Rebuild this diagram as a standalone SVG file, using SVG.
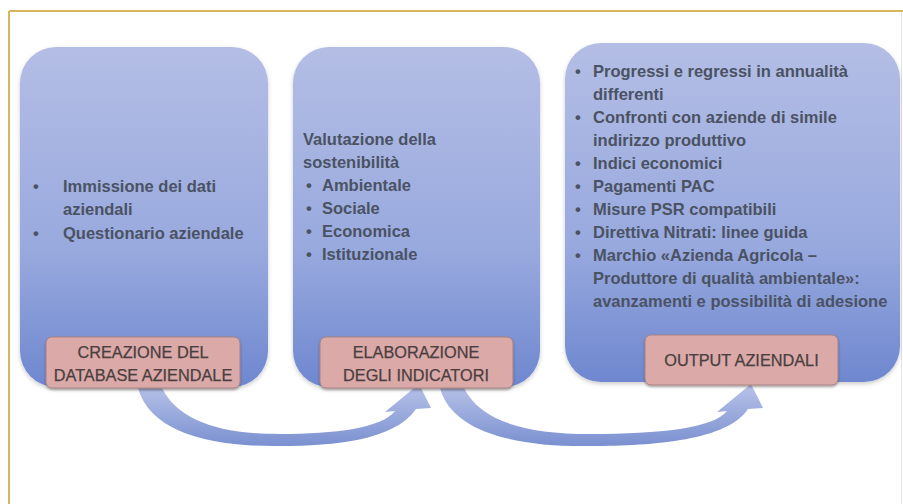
<svg xmlns="http://www.w3.org/2000/svg" width="903" height="504" viewBox="0 0 903 504">
<defs>
<style>
.box{fill:url(#boxg);}
.lab{fill:#daa9a8;stroke:#a88282;stroke-width:1;filter:url(#sh);}
.t{font-family:"Liberation Sans",Arial,sans-serif;font-weight:bold;font-size:16.5px;fill:#4a5263;}
.lt{font-family:"Liberation Sans",Arial,sans-serif;font-size:16.3px;fill:#4a3f40;stroke:#4a3f40;stroke-width:0.25;text-anchor:middle;}
.arr{fill:url(#arrg);}
</style>
<linearGradient id="boxg" x1="0" y1="0" x2="0" y2="1">
<stop offset="0" stop-color="#b4bee5"/>
<stop offset="0.6" stop-color="#98a9de"/>
<stop offset="1" stop-color="#6e87cf"/>
</linearGradient>
<linearGradient id="arrg" x1="0" y1="0" x2="0" y2="1">
<stop offset="0" stop-color="#b8c3e8"/>
<stop offset="1" stop-color="#7a90d0"/>
</linearGradient>
<filter id="sh" x="-10%" y="-10%" width="120%" height="130%">
<feDropShadow dx="0" dy="1.5" stdDeviation="1.2" flood-color="#000" flood-opacity="0.35"/>
</filter>
<filter id="bsh" x="-10%" y="-10%" width="120%" height="120%">
<feDropShadow dx="0" dy="2" stdDeviation="2" flood-color="#000" flood-opacity="0.2"/>
</filter>
</defs>
<rect x="0" y="0" width="903" height="504" fill="#ffffff"/>
<g id="frame">
<line x1="9" y1="11" x2="903" y2="11" stroke="#d8b65e" stroke-width="2"/>
<line x1="9" y1="11" x2="9" y2="504" stroke="#d8b65e" stroke-width="2"/>
<line x1="901.5" y1="12" x2="901.5" y2="504" stroke="#e6e6e6" stroke-width="1"/>
</g>
<g id="connectors">
<path class="arr" d="M138,388 C150,432 210,447 280,446 C335,446 395,440 416,409 L431,408 L419,384 L385,412 L395,411 C382,428 335,434 280,434 C218,434 178,420 162,388 Z"/>
<path class="arr" d="M440,388 C452,432 515,447 590,446 C655,446 728,440 748,409 L763,408 L751,384 L717,412 L727,411 C714,428 660,434 590,434 C522,434 480,420 464,388 Z"/>
</g>
<g id="node1">
<rect class="box" x="20" y="47" width="248" height="340" rx="36" filter="url(#bsh)"/>
<text class="t" x="33" y="192">•</text><text class="t" x="63" y="192">Immissione dei dati</text>
<text class="t" x="63" y="215">aziendali</text>
<text class="t" x="33" y="239">•</text><text class="t" x="63" y="239">Questionario aziendale</text>
<rect class="lab" x="46" y="337" width="194" height="51" rx="6"/>
<text class="lt" x="143" y="358">CREAZIONE DEL</text>
<text class="lt" x="143" y="381">DATABASE AZIENDALE</text>
</g>
<g id="node2">
<rect class="box" x="293" y="47" width="247" height="340" rx="36" filter="url(#bsh)"/>
<text class="t" x="303" y="145">Valutazione della</text>
<text class="t" x="303" y="168">sostenibilità</text>
<text class="t" x="306" y="191">•</text><text class="t" x="322" y="191">Ambientale</text>
<text class="t" x="306" y="214">•</text><text class="t" x="322" y="214">Sociale</text>
<text class="t" x="306" y="237">•</text><text class="t" x="322" y="237">Economica</text>
<text class="t" x="306" y="260">•</text><text class="t" x="322" y="260">Istituzionale</text>
<rect class="lab" x="320" y="337" width="193" height="51" rx="6"/>
<text class="lt" x="416" y="358">ELABORAZIONE</text>
<text class="lt" x="416" y="381">DEGLI INDICATORI</text>
</g>
<g id="node3">
<rect class="box" x="565" y="43" width="335" height="339" rx="36" filter="url(#bsh)"/>
<text class="t" x="575" y="77">•</text><text class="t" x="593" y="77">Progressi e regressi in annualità</text>
<text class="t" x="593" y="100">differenti</text>
<text class="t" x="575" y="123">•</text><text class="t" x="593" y="123">Confronti con aziende di simile</text>
<text class="t" x="593" y="146">indirizzo produttivo</text>
<text class="t" x="575" y="169">•</text><text class="t" x="593" y="169">Indici economici</text>
<text class="t" x="575" y="192">•</text><text class="t" x="593" y="192">Pagamenti PAC</text>
<text class="t" x="575" y="215">•</text><text class="t" x="593" y="215">Misure PSR compatibili</text>
<text class="t" x="575" y="238">•</text><text class="t" x="593" y="238">Direttiva Nitrati: linee guida</text>
<text class="t" x="575" y="261">•</text><text class="t" x="593" y="261">Marchio «Azienda Agricola –</text>
<text class="t" x="593" y="284">Produttore di qualità ambientale»:</text>
<text class="t" x="593" y="307">avanzamenti e possibilità di adesione</text>
<rect class="lab" x="645" y="335" width="193" height="50" rx="6"/>
<text class="lt" x="741.5" y="366">OUTPUT AZIENDALI</text>
</g>
</svg>
